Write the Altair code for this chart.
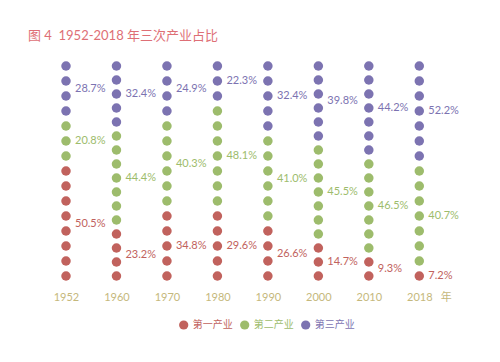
import altair as alt
import pandas as pd

years = ["1952", "1960", "1970", "1980", "1990", "2000", "2010", "2018"]
sectors = ["第一产业", "第二产业", "第三产业"]
colors = ["#c1625d", "#9dbc6c", "#7c73b1"]

primary_pct = [50.5, 23.2, 34.8, 29.6, 26.6, 14.7, 9.3, 7.2]
secondary_pct = [20.8, 44.4, 40.3, 48.1, 41.0, 45.5, 46.5, 40.7]
tertiary_pct = [28.7, 32.4, 24.9, 22.3, 32.4, 39.8, 44.2, 52.2]

primary_dots = [8, 4, 5, 5, 4, 3, 2, 1]
secondary_dots = [3, 7, 6, 7, 6, 7, 7, 7]
tertiary_dots = [4, 5, 4, 3, 5, 6, 7, 7]

dot_rows, label_rows = [], []
for j, yr in enumerate(years):
    counts = [primary_dots[j], secondary_dots[j], tertiary_dots[j]]
    pcts = [primary_pct[j], secondary_pct[j], tertiary_pct[j]]
    n = sum(counts)
    idx = 0
    for s, k, p in zip(sectors, counts, pcts):
        positions = [(idx + i) / (n - 1) for i in range(k)]
        for q in positions:
            dot_rows.append({"year": yr, "sector": s, "pos": q})
        label_rows.append({"year": yr, "sector": s, "pos": sum(positions) / k,
                           "label": f"{p:.1f}%"})
        idx += k

dots_df = pd.DataFrame(dot_rows)
labels_df = pd.DataFrame(label_rows)

cjk = "Noto Sans CJK SC"
year_color = "#c5b87c"

x_enc = alt.X(
    "year:O", sort=years,
    scale=alt.Scale(type="point", range=[58, 411.3], padding=0),
    axis=alt.Axis(
        title="年", labelAngle=0, domain=False, ticks=False, grid=False,
        labelPadding=0, offset=-63, labelColor=year_color, labelFont="Lato",
        labelFontSize=11, titleX=437.7, titleY=6, titleAlign="center",
        titleBaseline="middle", titleAngle=0, titleColor=year_color,
        titleFont=cjk, titleFontWeight="normal", titleFontSize=11,
    ),
)
y_enc = alt.Y("pos:Q", scale=alt.Scale(domain=[0, 1], range=[218, 8]), axis=None)
color_scale = alt.Scale(domain=sectors, range=colors)

label_color_expr = ("datum.label == '第一产业' ? '#c1625d' : "
                    "datum.label == '第二产业' ? '#9dbc6c' : '#7c73b1'")

dots = alt.Chart(dots_df).mark_circle(size=90, opacity=1).encode(
    x=x_enc, y=y_enc,
    color=alt.Color(
        "sector:N", scale=color_scale,
        legend=alt.Legend(
            orient="none", legendX=170.7, legendY=262, direction="horizontal",
            title=None, symbolType="circle", symbolSize=85, symbolStrokeWidth=0,
            symbolOpacity=1, labelFont=cjk, labelFontSize=10, labelOffset=4,
            columnPadding=7, padding=0,
            labelColor=alt.ExprRef(label_color_expr),
        ),
    ),
)

texts = alt.Chart(labels_df).mark_text(
    align="left", baseline="middle", dx=9, fontSize=11, font="Lato"
).encode(
    x=x_enc, y=y_enc, text="label:N",
    color=alt.Color("sector:N", scale=color_scale, legend=None),
)

chart = alt.layer(dots, texts).properties(
    width=484, height=296,
    autosize=alt.AutoSizeParams(type="none"),
    padding={"top": 50, "left": 0, "right": 0, "bottom": 0},
    title=alt.TitleParams(
        "图 4\u00a0\u00a01952-2018 年三次产业占比", anchor="start", fontSize=13,
        font="Lato, Noto Sans CJK SC", fontWeight="normal", color="#de6f76",
        dx=20, offset=15, frame="group",
    ),
).configure(background="white").configure_view(stroke=None, strokeWidth=0)

chart.save("out.html", embed_options={"renderer": "svg", "actions": False})
